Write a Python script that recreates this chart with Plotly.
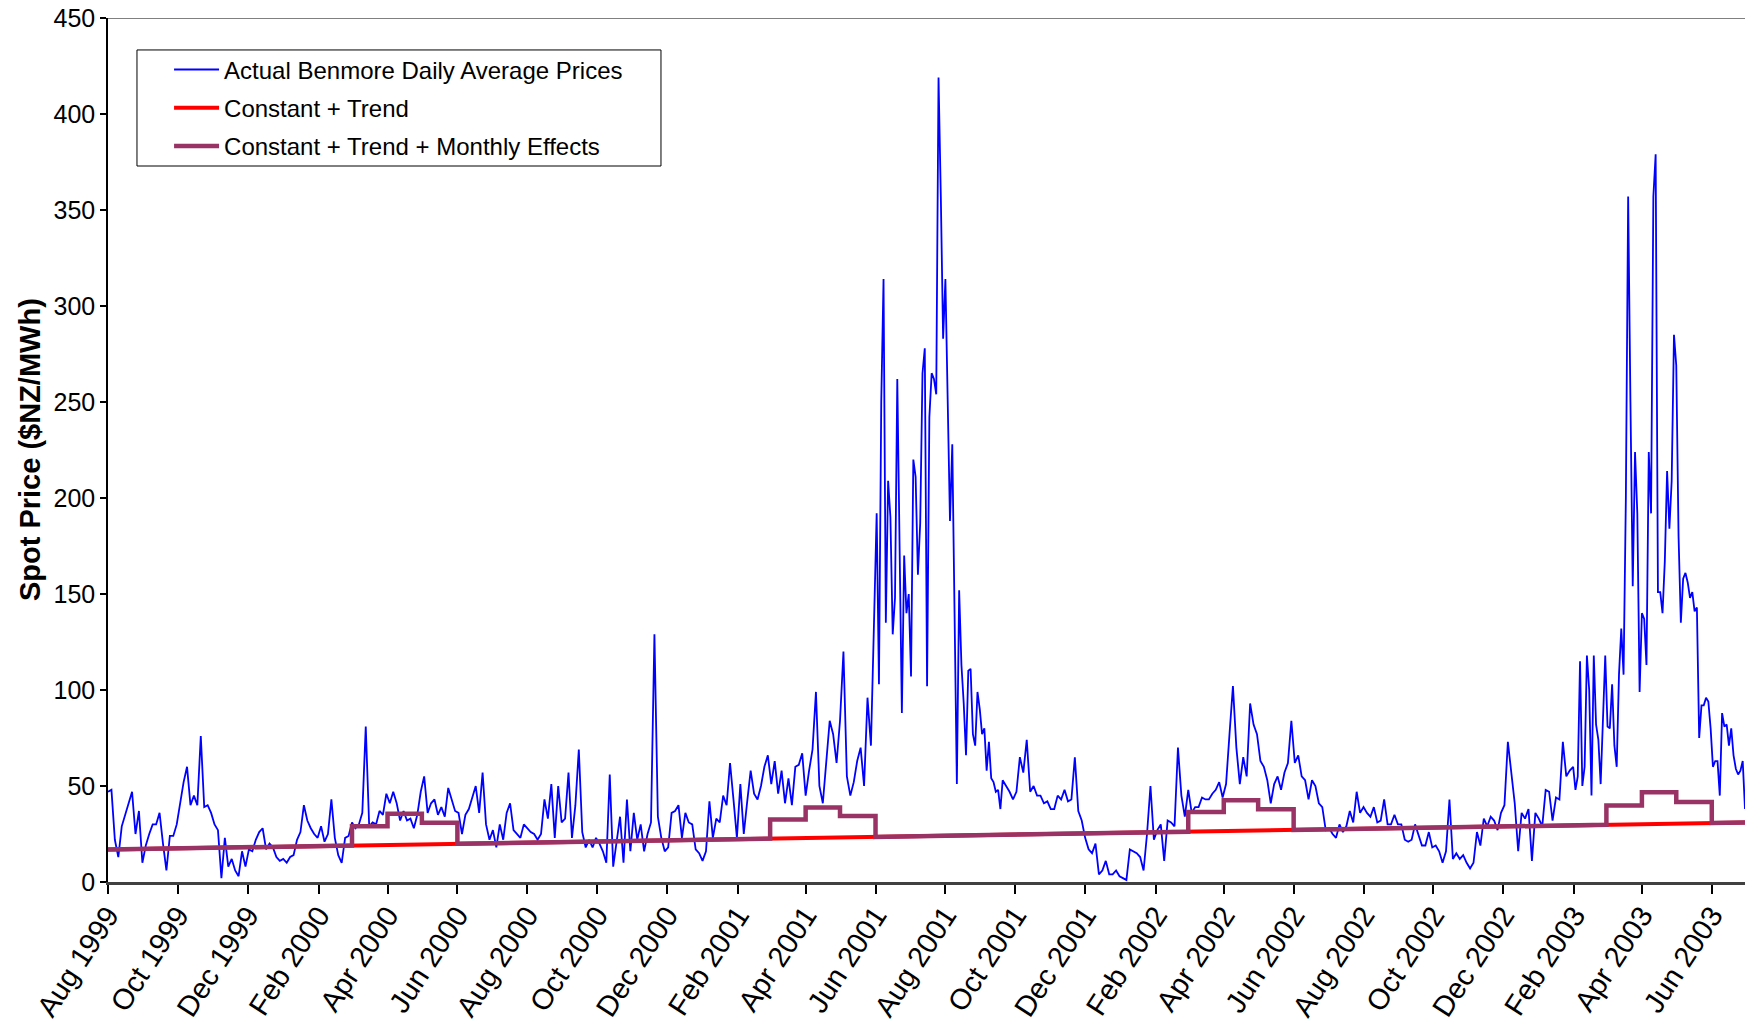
import numpy as np
import pandas as pd
import plotly.graph_objects as go

base_date = pd.Timestamp("1999-08-01")

# Benmore daily average prices in runs with a fixed day step
seg_start_day = [0, 669, 781, 1144, 1281]
seg_step_days = [3, 2, 3, 3, 2]

prices_aug99_may01 = [
    47, 48, 22, 13, 29, 35, 40, 47, 25, 37,
    10, 19, 25, 30, 30, 36, 20, 6, 24, 24,
    30, 42, 52, 60, 40, 45, 40, 76, 39, 40,
    36, 30, 27, 2, 23, 8, 12, 6, 3, 16,
    8, 17, 16, 22, 26, 28, 17, 20, 18, 13,
    11, 12, 10, 13, 14, 22, 26, 40, 32, 28,
    25, 23, 29, 21, 25, 43, 23, 14, 10, 23,
    24, 31, 28, 30, 36, 81, 29, 31, 30, 37,
    35, 46, 41, 47, 41, 32, 37, 32, 33, 28,
    35, 47, 55, 36, 41, 43, 35, 39, 34, 49,
    43, 37, 36, 25, 35, 38, 44, 50, 36, 57,
    30, 22, 27, 18, 30, 22, 36, 41, 27, 25,
    23, 30, 28, 26, 25, 22, 25, 43, 33, 51,
    23, 50, 31, 33, 57, 23, 40, 69, 26, 18,
    22, 18, 23, 20, 16, 10, 56, 8, 21, 34,
    10, 43, 16, 36, 22, 30, 16, 25, 31, 129,
    34, 23, 16, 18, 36, 37, 40, 23, 36, 31,
    30, 17, 15, 11, 16, 42, 23, 33, 31, 45,
    40, 62, 43, 23, 51, 25, 42, 58, 46, 43,
    50, 60, 66, 51, 63, 46, 58, 41, 54, 40,
    60, 61, 67, 45, 58, 69, 99, 50, 41, 63,
    84, 77, 62, 84, 120, 55, 45, 52, 63, 70,
    50, 96, 71,
]
prices_winter01 = [
    143, 192, 103, 250, 314, 135, 209, 190, 129, 148,
    262, 159, 88, 170, 140, 150, 107, 220, 211, 160,
    187, 265, 278, 102, 242, 265, 262, 254, 419, 357,
    283, 314, 240, 188, 228, 126, 51, 152, 113, 93,
    66, 110, 111, 77, 71, 99, 90, 77, 80, 58,
    73, 54, 52, 47, 48, 38,
]
prices_sep01_sep02 = [
    53, 50, 47, 43, 47, 65, 57, 74, 47, 50,
    45, 45, 41, 42, 38, 38, 45, 43, 48, 42,
    43, 65, 37, 32, 23, 17, 15, 20, 4, 6,
    11, 4, 4, 6, 3, 2, 1, 17, 16, 15,
    13, 6, 25, 50, 22, 27, 30, 11, 32, 31,
    29, 70, 45, 34, 48, 36, 39, 39, 44, 43,
    43, 46, 48, 52, 44, 51, 77, 102, 70, 51,
    65, 55, 93, 82, 77, 63, 60, 53, 41, 51,
    55, 48, 57, 62, 84, 62, 66, 55, 53, 43,
    53, 50, 41, 39, 27, 28, 25, 23, 30, 26,
    29, 37, 31, 47, 36, 39, 36, 34, 39, 31,
    32, 43, 30, 30, 35, 30, 30, 22, 21, 22,
    30,
]
prices_sep02_jan03 = [
    25, 19, 19, 26, 18, 19, 16, 10, 16, 43,
    12, 15, 12, 14, 10, 7, 10, 26, 19, 33,
    29, 34, 32, 27, 36, 40, 73, 58, 41, 16,
    36, 33, 38, 11, 36, 33, 29, 48, 47, 32,
    44, 43, 73, 55, 58, 60,
]
prices_feb03_jun03 = [
    48, 55, 115, 50, 60, 118, 100, 45, 118, 82,
    74, 51, 85, 118, 81, 80, 103, 71, 60, 108,
    132, 108, 200, 357, 250, 154, 224, 192, 99, 140,
    137, 113, 224, 192, 357, 379, 151, 151, 140, 167,
    214, 184, 209, 285, 269, 180, 135, 158, 161, 156,
    148, 151, 141, 143, 75, 92, 92, 96, 94, 80,
    60, 63, 63, 45, 88, 81, 82, 71, 80, 66,
    59, 56, 58, 63, 38,
]
price_segments = [prices_aug99_may01, prices_winter01, prices_sep01_sep02,
                  prices_sep02_jan03, prices_feb03_jun03]

# constant + trend
trend_dates = ["1999-08-01", "2003-06-30"]
trend_vals = [16.9, 31.0]

# constant + trend + monthly effects (Mar/Apr/May levels each year)
effect_years = [2000, 2001, 2002, 2003]
trend_mar1 = [19.0, 22.6, 26.2, 29.8]
level_mar = [29.0, 32.5, 36.5, 39.8]
level_apr = [35.6, 38.8, 42.6, 46.7]
level_may = [30.8, 34.4, 37.9, 41.7]
trend_jun1 = [19.9, 23.5, 27.1, 30.7]


price_dates = []
price_vals = []
for start, step, vals in zip(seg_start_day, seg_step_days, price_segments):
    days = start + step * np.arange(len(vals))
    price_dates += list(base_date + pd.to_timedelta(days, unit="D"))
    price_vals += vals

me_dates = [trend_dates[0]]
me_vals = [trend_vals[0]]
for i, yr in enumerate(effect_years):
    me_dates += [f"{yr}-03-01", f"{yr}-03-01", f"{yr}-04-01", f"{yr}-04-01",
                 f"{yr}-05-01", f"{yr}-05-01", f"{yr}-06-01", f"{yr}-06-01"]
    me_vals += [trend_mar1[i], level_mar[i], level_mar[i], level_apr[i],
                level_apr[i], level_may[i], level_may[i], trend_jun1[i]]
me_dates.append(trend_dates[1])
me_vals.append(trend_vals[1])

font_family = "Arial, Liberation Sans, sans-serif"

fig = go.Figure()
fig.add_trace(go.Scatter(x=price_dates, y=price_vals, mode="lines",
                         name="Actual Benmore Daily Average Prices",
                         line=dict(color="#0000FF", width=1.8),
                         legendgroup="a"))
fig.add_trace(go.Scatter(x=trend_dates, y=trend_vals, mode="lines",
                         name="Constant + Trend",
                         line=dict(color="#FF0000", width=4),
                         legendgroup="b"))
fig.add_trace(go.Scatter(x=me_dates, y=me_vals, mode="lines",
                         name="Constant + Trend + Monthly Effects",
                         line=dict(color="#993366", width=4.5),
                         legendgroup="c"))

fig.update_layout(
    width=1745, height=1031,
    margin=dict(l=108, r=0, t=18, b=149),
    paper_bgcolor="white", plot_bgcolor="white",
    font=dict(family=font_family, size=24, color="black"),
    showlegend=True,
    legend=dict(x=0.0373, y=0.966, xanchor="left", yanchor="top",
                borderwidth=0, bgcolor="rgba(0,0,0,0)",
                font=dict(size=24), itemwidth=45, tracegroupgap=4),
    shapes=[
        dict(type="line", xref="paper", yref="y", x0=0, x1=1, y0=450, y1=450,
             line=dict(color="#808080", width=2)),
        dict(type="rect", xref="paper", yref="paper", x0=0.0177, x1=0.3378,
             y0=0.8287, y1=0.963, line=dict(color="black", width=1),
             fillcolor="white", layer="below"),
    ],
    annotations=[
        dict(text="<b>Spot Price ($NZ/MWh)</b>", textangle=-90,
             xref="paper", yref="paper", x=-0.0476, y=0.5,
             xanchor="center", yanchor="middle", showarrow=False,
             font=dict(size=29)),
    ],
)
fig.update_xaxes(
    type="date", range=["1999-08-01", "2003-06-30"],
    tick0="1999-08-01", dtick="M2", tickformat="%b %Y", tickangle=-57,
    ticks="outside", ticklen=9, tickwidth=1.5, tickcolor="black",
    showline=True, linecolor="#404040", linewidth=2.5,
    showgrid=False, zeroline=False, automargin=False,
    tickfont=dict(size=29), ticklabelstandoff=-7,
)
fig.update_yaxes(
    range=[0, 450], dtick=50,
    ticks="outside", ticklen=6, tickwidth=1.5, tickcolor="black",
    showline=True, linecolor="black", linewidth=1.5,
    showgrid=False, zeroline=False, automargin=False,
    tickfont=dict(size=25), ticklabeloverflow="allow",
)

# drop the default page margin so the figure sits flush in the window
fig.write_html("out.html",
               config={"displayModeBar": False},
               post_script="document.body.style.margin='0';"
                           "document.body.style.overflow='hidden';")
